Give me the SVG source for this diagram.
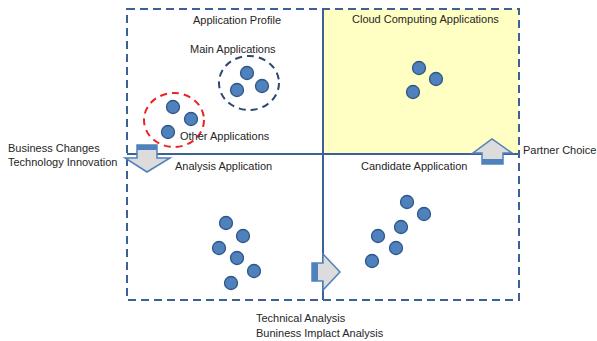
<svg xmlns="http://www.w3.org/2000/svg" width="597" height="341" viewBox="0 0 597 341">
<style>
text{font-family:"Liberation Sans",Arial,sans-serif;font-size:11px;fill:#262626}
.dot{fill:#4F81BD;stroke:#2F5687;stroke-width:1.3}
.dash{fill:none;stroke:#3B6196;stroke-width:2;stroke-dasharray:8 5}
.axis{stroke:#3B6196;stroke-width:2}
.arr{fill:#DCDCDC;stroke:#4F81BD;stroke-width:1.5;stroke-linejoin:miter}
.band{fill:#4F81BD}
</style>
<rect x="323" y="9" width="196" height="145" fill="#FFFFC4"/>
<rect id="frame" class="dash" x="127" y="9" width="392" height="291"/>
<g id="connectors">
<line class="axis" x1="323" y1="9" x2="323" y2="300"/>
<line class="axis" x1="127" y1="154" x2="519" y2="154"/>
<g id="arrow-down">
<polygon class="arr" points="137,145 157,145 157,158 170,158 147,172 125,158 137,158"/>
<rect class="band" x="137" y="145" width="20" height="5"/>
</g>
<g id="arrow-up">
<polygon class="arr" points="482,164 503,164 503,153 512,153 492,139 473,153 482,153"/>
<rect class="band" x="482" y="159" width="21" height="5"/>
</g>
<g id="arrow-right">
<polygon class="arr" points="312,263 323,263 323,254 340,272 323,290 323,281 312,281"/>
<rect class="band" x="312" y="263" width="6" height="18"/>
</g>
</g>
<g id="profile">
<text x="193" y="24">Application Profile</text>
</g>
<g id="main-apps">
<text x="190" y="53">Main Applications</text>
<ellipse cx="249" cy="83" rx="30" ry="27" fill="none" stroke="#2C4770" stroke-width="2" stroke-dasharray="7 5"/>
<circle class="dot" cx="247" cy="73" r="6.5"/>
<circle class="dot" cx="237" cy="90" r="6.5"/>
<circle class="dot" cx="262" cy="86" r="6.5"/>
</g>
<g id="other-apps">
<ellipse cx="174" cy="120" rx="30" ry="27" fill="none" stroke="#EE2222" stroke-width="2" stroke-dasharray="7 5"/>
<circle class="dot" cx="173" cy="107" r="6.5"/>
<circle class="dot" cx="191" cy="119" r="6.5"/>
<circle class="dot" cx="168" cy="132" r="6.5"/>
<text x="180" y="140">Other Applications</text>
</g>
<g id="cloud-apps">
<text x="352" y="23">Cloud Computing Applications</text>
<circle class="dot" cx="419" cy="68" r="6.5"/>
<circle class="dot" cx="436" cy="79" r="6.5"/>
<circle class="dot" cx="413" cy="92" r="6.5"/>
</g>
<g id="analysis-apps">
<text x="175" y="170">Analysis Application</text>
<circle class="dot" cx="226" cy="223" r="6.5"/>
<circle class="dot" cx="243" cy="236" r="6.5"/>
<circle class="dot" cx="219" cy="248" r="6.5"/>
<circle class="dot" cx="237" cy="258" r="6.5"/>
<circle class="dot" cx="254" cy="271" r="6.5"/>
<circle class="dot" cx="231" cy="283" r="6.5"/>
</g>
<g id="candidate-apps">
<text x="361" y="170">Candidate Application</text>
<circle class="dot" cx="407" cy="202" r="6.5"/>
<circle class="dot" cx="424" cy="214" r="6.5"/>
<circle class="dot" cx="401" cy="227" r="6.5"/>
<circle class="dot" cx="378" cy="236" r="6.5"/>
<circle class="dot" cx="396" cy="248" r="6.5"/>
<circle class="dot" cx="372" cy="261" r="6.5"/>
</g>
<g id="labels">
<text x="8" y="152">Business Changes</text>
<text x="8" y="166">Technology Innovation</text>
<text x="523" y="154">Partner Choice</text>
<text x="256" y="322">Technical Analysis</text>
<text x="256" y="337">Buniness Implact Analysis</text>
</g>
</svg>
